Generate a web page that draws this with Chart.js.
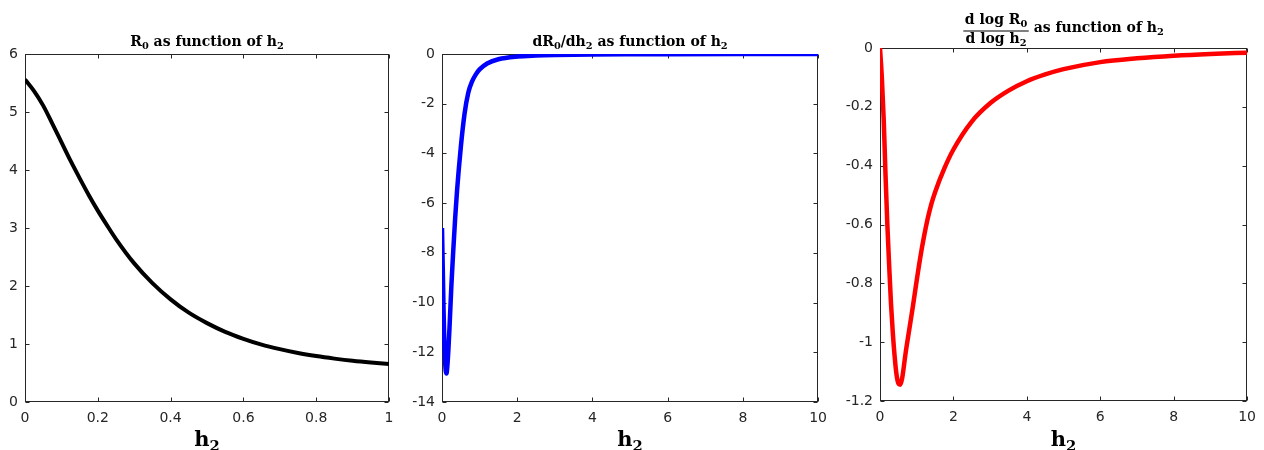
<!DOCTYPE html>
<html>
<head>
<meta charset="utf-8">
<script src="https://cdn.jsdelivr.net/npm/chart.js@4.4.1/dist/chart.umd.min.js"></script>
<style>
  html, body { margin: 0; padding: 0; background: #fff; }
  #wrap { position: relative; width: 1264px; height: 450px; overflow: hidden; }
  canvas { position: absolute; top: 0; }
</style>
</head>
<body>
<div id="wrap">
  <canvas id="r0Chart" style="left:0px"></canvas>
  <canvas id="dR0Chart" style="left:410px"></canvas>
  <canvas id="elastChart" style="left:835px"></canvas>
</div>
<script>
// R0 as function of h2
const r0H = [0, 0.025, 0.05, 0.075, 0.1, 0.125, 0.15, 0.175, 0.2, 0.225, 0.25, 0.3, 0.35, 0.4,
  0.45, 0.5, 0.55, 0.6, 0.65, 0.7, 0.75, 0.8, 0.85, 0.9, 0.95, 1.0];
const r0Val = [5.56, 5.36, 5.11, 4.80, 4.48, 4.16, 3.86, 3.57, 3.30, 3.05, 2.81, 2.39, 2.05, 1.77,
  1.54, 1.36, 1.21, 1.09, 0.99, 0.912, 0.845, 0.792, 0.748, 0.71, 0.68, 0.655];

// dR0/dh2
const dR0H = [0, 0.02, 0.04, 0.06, 0.08, 0.1, 0.12, 0.14, 0.17, 0.2, 0.25, 0.3, 0.35, 0.4,
  0.5, 0.6, 0.7, 0.8, 0.9, 1.0, 1.2, 1.5, 2, 2.5, 3, 4, 5, 6, 8, 10];
const dR0Val = [-7.0, -8.6, -10.2, -11.5, -12.3, -12.75, -12.85, -12.6, -11.9, -11.0, -9.3, -7.9, -6.6, -5.5,
  -3.75, -2.4, -1.55, -1.1, -0.82, -0.62, -0.38, -0.21, -0.1, -0.06, -0.04, -0.02, -0.012, -0.008, -0.004, -0.002];

// d log R0 / d log h2
const elastH = [0, 0.05, 0.1, 0.15, 0.2, 0.25, 0.3, 0.35, 0.4, 0.45, 0.5, 0.55, 0.6, 0.7, 0.8, 0.9, 1.0,
  1.1, 1.2, 1.3, 1.4, 1.5, 1.75, 2.0, 2.5, 3.0, 3.5, 4, 4.5, 5, 6, 7, 8, 9, 10];
const elastVal = [0, -0.1, -0.24, -0.43, -0.6, -0.74, -0.87, -0.97, -1.05, -1.11, -1.14, -1.145, -1.125, -1.035, -0.955, -0.875, -0.79,
  -0.71, -0.64, -0.58, -0.53, -0.49, -0.41, -0.345, -0.25, -0.188, -0.145, -0.113, -0.09, -0.072, -0.048, -0.035, -0.026, -0.02, -0.016];

// tick labels
const xTicksR0 = [0, 0.2, 0.4, 0.6, 0.8, 1];
const yTicksR0 = [0, 1, 2, 3, 4, 5, 6];
const xTicksWide = [0, 2, 4, 6, 8, 10];
const yTicksDR0 = [-14, -12, -10, -8, -6, -4, -2, 0];
const yTicksElast = [-1.2, -1, -0.8, -0.6, -0.4, -0.2, 0];

const axisColor = '#262626';
const tickFont = { family: '"DejaVu Sans", sans-serif', size: 14 };
const texFamily = '"DejaVu Serif", serif';

function segsWidth(ctx, segs, size) {
  let w = 0;
  for (const [t, sub] of segs) {
    ctx.font = `bold ${sub ? size * 0.7 : size}px ${texFamily}`;
    w += ctx.measureText(t).width;
  }
  return w;
}

// draws text pieces, [text, isSubscript], from x on baseline y
function drawSegs(ctx, segs, x, y, size) {
  for (const [t, sub] of segs) {
    ctx.font = `bold ${sub ? size * 0.7 : size}px ${texFamily}`;
    ctx.fillText(t, x, sub ? y + size * 0.22 : y);
    x += ctx.measureText(t).width;
  }
}

// box with inward ticks on all four sides + tex-like titles
const matlabAxes = {
  id: 'matlabAxes',
  beforeDatasetsDraw(chart) {
    const { ctx, chartArea: a, scales: { x, y } } = chart;
    const L = Math.round(a.left) + 0.5, R = Math.round(a.right) - 0.5;
    const T = Math.round(a.top) + 0.5, B = Math.round(a.bottom) - 0.5;
    ctx.save();
    ctx.strokeStyle = axisColor;
    ctx.lineWidth = 1;
    ctx.strokeRect(L, T, R - L, B - T);
    ctx.beginPath();
    x.ticks.forEach(t => {
      const px = Math.round(x.getPixelForValue(t.value)) + 0.5;
      ctx.moveTo(px, B); ctx.lineTo(px, B - 4);
      ctx.moveTo(px, T); ctx.lineTo(px, T + 4);
    });
    y.ticks.forEach(t => {
      const py = Math.round(y.getPixelForValue(t.value)) + 0.5;
      ctx.moveTo(L, py); ctx.lineTo(L + 4, py);
      ctx.moveTo(R, py); ctx.lineTo(R - 4, py);
    });
    ctx.stroke();
    ctx.restore();
  },
  afterDraw(chart, args, opts) {
    const { ctx, chartArea: a } = chart;
    const cx = (a.left + a.right) / 2;
    ctx.save();
    ctx.fillStyle = '#000';
    ctx.textBaseline = 'alphabetic';
    ctx.textAlign = 'left';

    if (opts.title) {
      const w = segsWidth(ctx, opts.title, 14);
      drawSegs(ctx, opts.title, cx - w / 2, 46, 14);
    }
    if (opts.frac) {
      const { num, den, rest } = opts.frac;
      const numW = segsWidth(ctx, num, 14), denW = segsWidth(ctx, den, 14);
      const fracW = Math.max(numW, denW) + 3;
      const restW = segsWidth(ctx, rest, 14);
      const x0 = cx - (fracW + restW) / 2;
      drawSegs(ctx, num, x0 + (fracW - numW) / 2, 24, 14);
      ctx.fillRect(x0, 30.5, fracW, 1);
      drawSegs(ctx, den, x0 + (fracW - denW) / 2, 43, 14);
      drawSegs(ctx, rest, x0 + fracW, 32, 14);
    }
    const lw = segsWidth(ctx, opts.xlabel, 21);
    drawSegs(ctx, opts.xlabel, cx - lw / 2, 446, 21);
    ctx.restore();
  }
};

function makePanel(id, cfg) {
  const canvas = document.getElementById(id);
  canvas.width = cfg.width;
  canvas.height = 450;
  canvas.style.width = cfg.width + 'px';
  canvas.style.height = '450px';

  return new Chart(canvas.getContext('2d'), {
    type: 'line',
    data: {
      datasets: [{
        data: cfg.xs.map((h, i) => ({ x: h, y: cfg.ys[i] })),
        borderColor: cfg.color,
        borderWidth: cfg.lineWidth,
        pointRadius: 0,
        fill: false,
        cubicInterpolationMode: 'monotone'
      }]
    },
    options: {
      responsive: false,
      animation: false,
      events: [],
      layout: { padding: { top: cfg.top, right: cfg.right, left: 0, bottom: 0 } },
      plugins: {
        legend: { display: false },
        tooltip: { enabled: false },
        matlabAxes: { title: cfg.title, frac: cfg.frac, xlabel: [['h', 0], ['2', 1]] }
      },
      scales: {
        x: {
          type: 'linear',
          min: cfg.xTicks[0],
          max: cfg.xTicks[cfg.xTicks.length - 1],
          grid: { display: false, drawTicks: false },
          border: { display: false },
          afterBuildTicks: s => { s.ticks = cfg.xTicks.map(v => ({ value: v })); },
          afterFit: s => { s.height = 450 - cfg.bottom; },
          ticks: { font: tickFont, color: axisColor, padding: 8, maxRotation: 0, autoSkip: false,
            callback: v => String(v) }
        },
        y: {
          type: 'linear',
          min: cfg.yTicks[0],
          max: cfg.yTicks[cfg.yTicks.length - 1],
          grid: { display: false, drawTicks: false },
          border: { display: false },
          afterBuildTicks: s => { s.ticks = cfg.yTicks.map(v => ({ value: v })); },
          afterFit: s => { s.width = cfg.left; },
          ticks: { font: tickFont, color: axisColor, padding: 7, autoSkip: false,
            callback: v => String(v) }
        }
      }
    },
    plugins: [matlabAxes]
  });
}

document.addEventListener('DOMContentLoaded', () => {
  makePanel('r0Chart', {
    width: 410, left: 25, right: 21, top: 54, bottom: 402,
    xs: r0H, ys: r0Val, xTicks: xTicksR0, yTicks: yTicksR0,
    color: '#000000', lineWidth: 4,
    title: [['R', 0], ['0', 1], [' as function of h', 0], ['2', 1]]
  });
  makePanel('dR0Chart', {
    width: 425, left: 32, right: 12, top: 54, bottom: 402,
    xs: dR0H, ys: dR0Val, xTicks: xTicksWide, yTicks: yTicksDR0,
    color: '#0000ff', lineWidth: 4.5,
    title: [['dR', 0], ['0', 1], ['/dh', 0], ['2', 1], [' as function of h', 0], ['2', 1]]
  });
  makePanel('elastChart', {
    width: 429, left: 45, right: 9, top: 48, bottom: 401,
    xs: elastH, ys: elastVal, xTicks: xTicksWide, yTicks: yTicksElast,
    color: '#ff0000', lineWidth: 4.5,
    frac: {
      num: [['d log R', 0], ['0', 1]],
      den: [['d log h', 0], ['2', 1]],
      rest: [[' as function of h', 0], ['2', 1]]
    }
  });
});
</script>
</body>
</html>
